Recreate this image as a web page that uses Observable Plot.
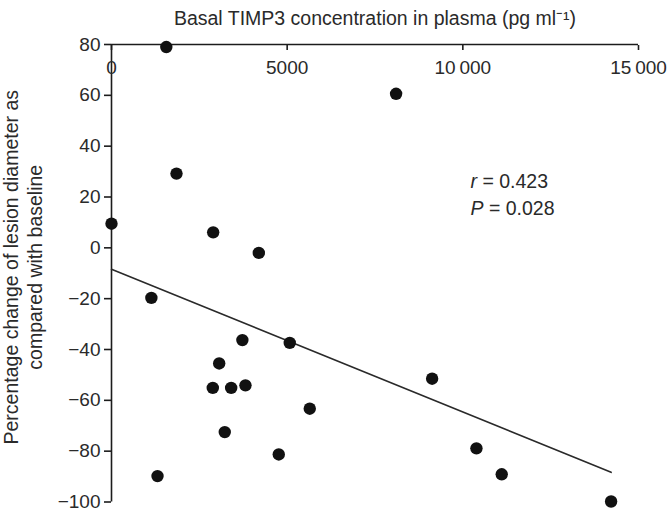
<!DOCTYPE html>
<html><head><meta charset="utf-8">
<script src="https://cdn.jsdelivr.net/npm/d3@7"></script>
<script src="https://cdn.jsdelivr.net/npm/@observablehq/plot@0.6"></script>
<style>
html,body{margin:0;padding:0;background:#fff;}
#chart svg{display:block;}
</style></head><body><div id="chart"></div>
<script>
// Basal TIMP3 (pg/ml) vs percentage change of lesion diameter
const timp3 = [0, 1560, 8100, 1850, 2894, 4193, 1135, 3725, 5074, 3065, 2883, 3406, 3813, 5643, 3224, 4761, 1310, 9126, 10387, 11107, 14220];
const lesionChange = [9.5, 79, 60.6, 29.2, 6.1, -2.0, -19.7, -36.3, -37.4, -45.5, -55.1, -55.1, -54.1, -63.3, -72.5, -81.3, -89.8, -51.5, -78.9, -89.1, -99.8];
const xDomain = [0, 15000];
const yDomain = [-100, 80];
const xTicks = [0, 5000, 10000, 15000];
const yTicks = [-100, -80, -60, -40, -20, 0, 20, 40, 60, 80];
const xLabel = "Basal TIMP3 concentration in plasma (pg ml\u207B\u00B9)";
const yLabelLines = ["Percentage change of lesion diameter as", "compared with baseline"];
const statLines = ["r = 0.423", "P = 0.028"];

const data = timp3.map((x, i) => ({x, y: lesionChange[i]}));
const fmtX = d => d >= 10000 ? d3.format(",")(d).replace(",", "\u2009") : String(d);
const fmtY = d => d < 0 ? "\u2212" + (-d) : String(d);
const ink = "#1c1c1c";

const chart = Plot.plot({
  width: 667, height: 512,
  marginLeft: 111, marginRight: 29, marginTop: 44, marginBottom: 10.5,
  style: {fontFamily: "'Liberation Sans', Arial, Helvetica, sans-serif", fontSize: "19px", color: ink, background: "#fff", overflow: "visible"},
  x: {domain: xDomain, axis: null},
  y: {domain: yDomain, axis: null},
  marks: [
    Plot.ruleY([yDomain[1]], {stroke: ink, strokeWidth: 1.6}),
    Plot.ruleX([xDomain[0]], {stroke: ink, strokeWidth: 1.6}),
    Plot.axisY({anchor: "left", ticks: yTicks, tickSize: 7, tickPadding: 4, strokeWidth: 1.6, label: null, tickFormat: fmtY, fill: "#2a2a2a"}),
    Plot.axisX({anchor: "top", ticks: xTicks, tickSize: -5, fill: "none", label: null, strokeWidth: 1.6}),
    Plot.text(xTicks, {x: d => d, frameAnchor: "top", dy: 23.5, text: fmtX, lineAnchor: "middle", fill: "#2a2a2a"}),
    Plot.text([xLabel], {frameAnchor: "top", dy: -26, lineAnchor: "middle", fontSize: 19.5, fill: "#2a2a2a"}),
    Plot.text([yLabelLines.join("\n")], {frameAnchor: "left", rotate: -90, dx: -89, dy: -6, lineHeight: 1.23, lineAnchor: "middle", textAnchor: "middle", fontSize: 19.5, fill: "#2a2a2a"}),
    Plot.text([statLines.join("\n")], {frameAnchor: "top-left", dx: 359, dy: 124, lineHeight: 1.385, lineAnchor: "top", textAnchor: "start", fontSize: 19.5, fill: "#2a2a2a"}),
    Plot.linearRegressionY(data, {x: "x", y: "y", ci: 0, stroke: "#2a2a2a", strokeWidth: 1.6}),
    Plot.dot(data, {x: "x", y: "y", r: 6.2, fill: "#111", stroke: "none"})
  ]
});

// italicize the statistic symbols (r, P)
chart.querySelectorAll("tspan, text").forEach(el => {
  if (el.children.length) return;
  const t = el.textContent;
  if (/^(r|P) = /.test(t)) {
    el.textContent = "";
    const it = document.createElementNS("http://www.w3.org/2000/svg", "tspan");
    it.setAttribute("font-style", "italic");
    it.textContent = t[0];
    el.appendChild(it);
    el.appendChild(document.createTextNode(t.slice(1)));
  }
});
document.getElementById("chart").appendChild(chart);
</script></body></html>
